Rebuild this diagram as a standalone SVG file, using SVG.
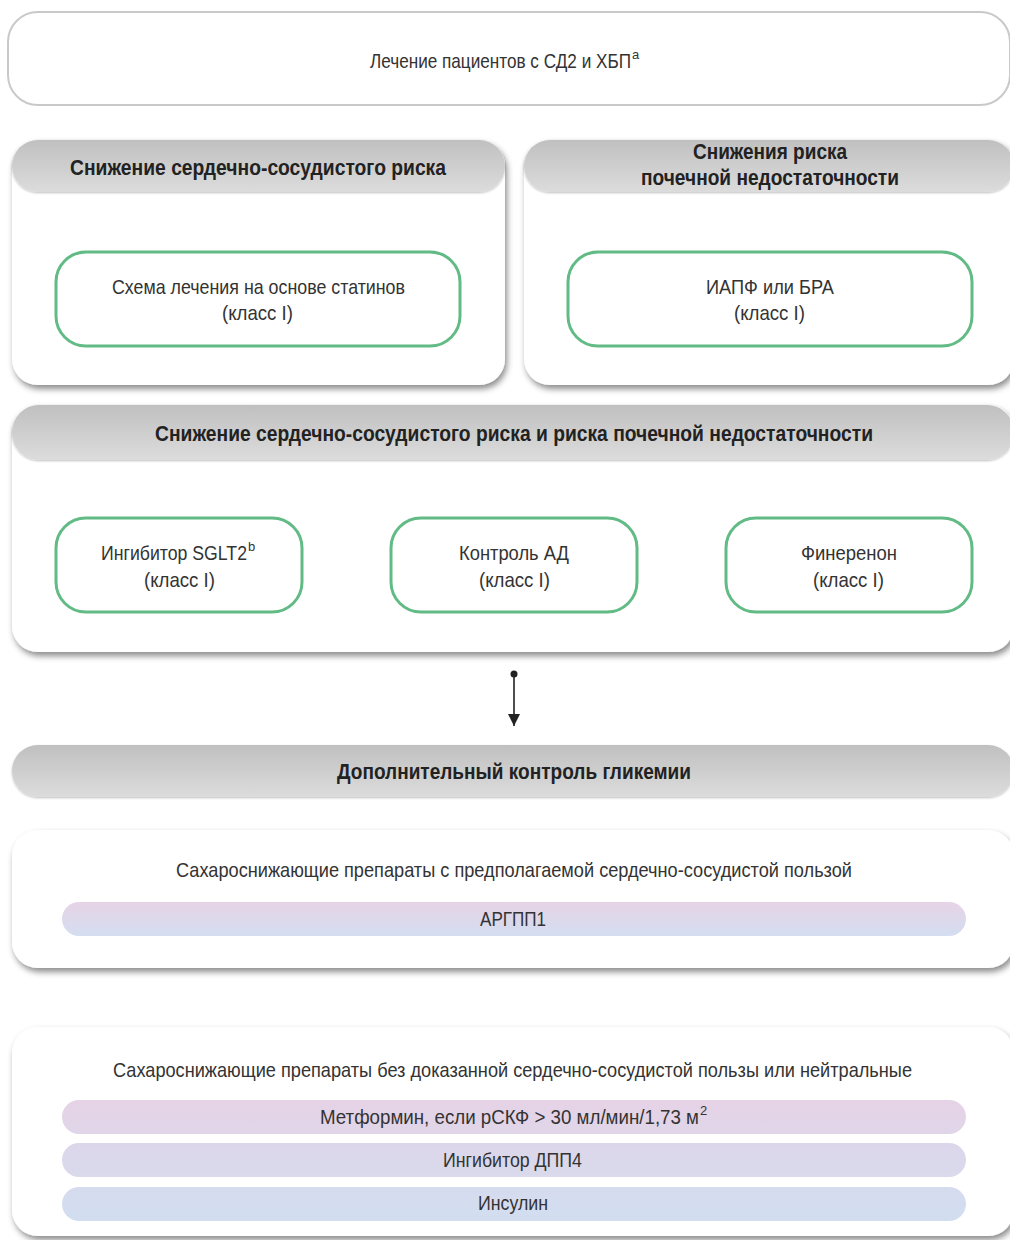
<svg xmlns="http://www.w3.org/2000/svg" width="1010" height="1240" viewBox="0 0 1010 1240">
<defs>
<filter id="sh" x="-5%" y="-10%" width="110%" height="125%">
<feDropShadow dx="2" dy="4" stdDeviation="3" flood-color="#000" flood-opacity="0.45"/>
</filter>
<filter id="sh2" x="-5%" y="-20%" width="110%" height="150%">
<feDropShadow dx="0" dy="1" stdDeviation="1" flood-color="#000" flood-opacity="0.25"/>
</filter>
<linearGradient id="hdr" x1="0" y1="0" x2="0" y2="1">
<stop offset="0" stop-color="#c0c0c0"/>
<stop offset="1" stop-color="#dcdcdc"/>
</linearGradient>
<linearGradient id="pg1" x1="0" y1="0" x2="0" y2="1">
<stop offset="0" stop-color="#e7d3e6"/>
<stop offset="1" stop-color="#d3def0"/>
</linearGradient>
<linearGradient id="pgM" x1="0" y1="0" x2="0" y2="1">
<stop offset="0" stop-color="#e6d2e6"/>
<stop offset="1" stop-color="#e0d6e9"/>
</linearGradient>
<linearGradient id="pgD" x1="0" y1="0" x2="0" y2="1">
<stop offset="0" stop-color="#ddd6ea"/>
<stop offset="1" stop-color="#d9daec"/>
</linearGradient>
<linearGradient id="pgI" x1="0" y1="0" x2="0" y2="1">
<stop offset="0" stop-color="#d6dbee"/>
<stop offset="1" stop-color="#d1def0"/>
</linearGradient>
<marker id="arr" viewBox="0 0 12 12" refX="12" refY="6" markerWidth="12" markerHeight="12" markerUnits="userSpaceOnUse" orient="auto">
<path d="M0,0 L12,6 L0,12 Z" fill="#222"/>
</marker>
</defs>
<style>
.t{font-family:"Liberation Sans",Arial,sans-serif;font-size:21px;fill:#333;}
.b{font-family:"Liberation Sans",Arial,sans-serif;font-size:22px;font-weight:bold;fill:#222;}
.sup{font-size:13px;}
.panel{fill:#fff;filter:url(#sh);}
.hdr{fill:url(#hdr);filter:url(#sh2);}
.green{fill:#fff;stroke:#62bb85;stroke-width:3;}
</style>
<rect width="1010" height="1240" fill="#fff"/>

<g id="top">
<rect x="8" y="12" width="1002" height="93" rx="30" fill="#fff" stroke="#c9c9c9" stroke-width="2"/>
<text class="t" x="370" y="68"><tspan textLength="261" lengthAdjust="spacingAndGlyphs">Лечение пациентов с СД2 и ХБП</tspan><tspan class="sup" dx="1" dy="-9">a</tspan></text>
</g>

<g id="cv-panel">
<rect class="panel" x="12" y="140" width="493" height="245" rx="26"/>
<rect class="hdr" x="12" y="140" width="493" height="52" rx="26"/>
<text class="b" x="70" y="175" textLength="376" lengthAdjust="spacingAndGlyphs">Снижение сердечно-сосудистого риска</text>
</g>
<g id="statins">
<rect class="green" x="56" y="252" width="404" height="94" rx="30"/>
<text class="t" x="112" y="294" textLength="293" lengthAdjust="spacingAndGlyphs">Схема лечения на основе статинов</text>
<text class="t" x="222" y="320" textLength="71" lengthAdjust="spacingAndGlyphs">(класс I)</text>
</g>

<g id="kidney-panel">
<rect class="panel" x="524" y="140" width="490" height="245" rx="26"/>
<rect class="hdr" x="524" y="140" width="490" height="52" rx="26"/>
<text class="b" x="693" y="159" textLength="154" lengthAdjust="spacingAndGlyphs">Снижения риска</text>
<text class="b" x="641" y="185" textLength="258" lengthAdjust="spacingAndGlyphs">почечной недостаточности</text>
</g>
<g id="acei">
<rect class="green" x="568" y="252" width="404" height="94" rx="30"/>
<text class="t" x="706" y="294" textLength="128" lengthAdjust="spacingAndGlyphs">ИАПФ или БРА</text>
<text class="t" x="734" y="320" textLength="71" lengthAdjust="spacingAndGlyphs">(класс I)</text>
</g>

<g id="both-panel">
<rect class="panel" x="12" y="405" width="1002" height="247" rx="26"/>
<rect class="hdr" x="12" y="405" width="1002" height="55" rx="27"/>
<text class="b" x="155" y="441" textLength="718" lengthAdjust="spacingAndGlyphs">Снижение сердечно-сосудистого риска и риска почечной недостаточности</text>
</g>
<g id="sglt2">
<rect class="green" x="56" y="518" width="246" height="94" rx="30"/>
<text class="t" x="101" y="560"><tspan textLength="146" lengthAdjust="spacingAndGlyphs">Ингибитор SGLT2</tspan><tspan class="sup" dx="1" dy="-9">b</tspan></text>
<text class="t" x="144" y="587" textLength="71" lengthAdjust="spacingAndGlyphs">(класс I)</text>
</g>
<g id="bp">
<rect class="green" x="391" y="518" width="246" height="94" rx="30"/>
<text class="t" x="459" y="560" textLength="110" lengthAdjust="spacingAndGlyphs">Контроль АД</text>
<text class="t" x="479" y="587" textLength="71" lengthAdjust="spacingAndGlyphs">(класс I)</text>
</g>
<g id="finerenone">
<rect class="green" x="726" y="518" width="246" height="94" rx="30"/>
<text class="t" x="801" y="560" textLength="96" lengthAdjust="spacingAndGlyphs">Финеренон</text>
<text class="t" x="813" y="587" textLength="71" lengthAdjust="spacingAndGlyphs">(класс I)</text>
</g>

<g id="connectors">
<circle cx="514" cy="674" r="3.5" fill="#222"/>
<line x1="514" y1="674" x2="514" y2="726" stroke="#222" stroke-width="1.6" marker-end="url(#arr)"/>
</g>

<g id="glycemia-header">
<rect class="hdr" x="12" y="745" width="1002" height="52" rx="26"/>
<text class="b" x="337" y="779" textLength="354" lengthAdjust="spacingAndGlyphs">Дополнительный контроль гликемии</text>
</g>

<g id="cv-benefit">
<rect class="panel" x="12" y="830" width="1002" height="138" rx="26"/>
<text class="t" x="176" y="877" textLength="676" lengthAdjust="spacingAndGlyphs">Сахароснижающие препараты с предполагаемой сердечно-сосудистой пользой</text>
<rect x="62" y="902" width="904" height="34" rx="17" fill="url(#pg1)"/>
<text class="t" x="480" y="926" textLength="66" lengthAdjust="spacingAndGlyphs">АРГПП1</text>
</g>

<g id="neutral">
<rect class="panel" x="12" y="1027" width="1002" height="209" rx="26"/>
<text class="t" x="113" y="1077" font-size="20" textLength="799" lengthAdjust="spacingAndGlyphs">Сахароснижающие препараты без доказанной сердечно-сосудистой пользы или нейтральные</text>
<rect x="62" y="1100" width="904" height="34" rx="17" fill="url(#pgM)"/>
<text class="t" x="320" y="1124"><tspan textLength="379" lengthAdjust="spacingAndGlyphs">Метформин, если рСКФ &gt; 30 мл/мин/1,73 м</tspan><tspan class="sup" dx="1" dy="-9">2</tspan></text>
<rect x="62" y="1143" width="904" height="34" rx="17" fill="url(#pgD)"/>
<text class="t" x="443" y="1167" textLength="139" lengthAdjust="spacingAndGlyphs">Ингибитор ДПП4</text>
<rect x="62" y="1187" width="904" height="34" rx="17" fill="url(#pgI)"/>
<text class="t" x="478" y="1210" textLength="70" lengthAdjust="spacingAndGlyphs">Инсулин</text>
</g>
</svg>
